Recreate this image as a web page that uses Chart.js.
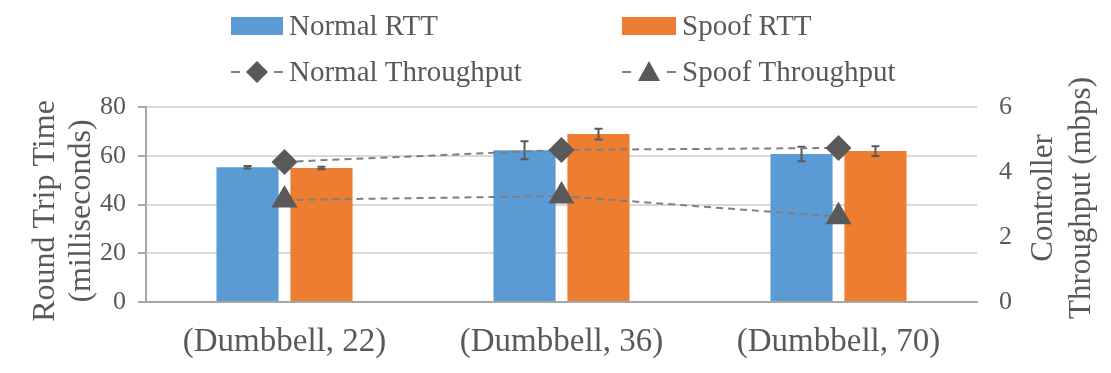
<!DOCTYPE html>
<html>
<head>
<meta charset="utf-8">
<script src="https://cdn.jsdelivr.net/npm/chart.js@4"></script>
<style>
  html, body { margin: 0; padding: 0; background: #fff; }
  #wrap { width: 1111px; height: 373px; }
</style>
</head>
<body>
<div id="wrap"><canvas id="myChart" width="1111" height="373"></canvas></div>
<script>
const categories = ['(Dumbbell, 22)', '(Dumbbell, 36)', '(Dumbbell, 70)']
const normalRtt = [55.3, 62.3, 60.7]
const normalRttErr = [0.5, 3.7, 3.0]
const spoofRtt = [55.0, 68.9, 61.9]
const spoofRttErr = [0.5, 2.2, 2.0]
const normalThroughput = [4.31, 4.68, 4.74]
const spoofThroughput = [3.14, 3.26, 2.62]

const FONT = "'Liberation Serif', 'Times New Roman', serif"
const GREY = '#595959'

// error bars drawn right after each bar dataset
const errorBars = {
    id: 'errorBars',
    afterDatasetDraw(chart, args) {
        const ds = chart.data.datasets[args.index]
        if (!ds.errors) return
        const ctx = chart.ctx
        const y = chart.scales.y
        ctx.save()
        ctx.strokeStyle = GREY
        ctx.lineWidth = 2
        args.meta.data.forEach((bar, i) => {
            const v = ds.data[i], e = ds.errors[i]
            const top = y.getPixelForValue(v + e)
            const bot = y.getPixelForValue(v - e)
            ctx.beginPath()
            ctx.moveTo(bar.x, top); ctx.lineTo(bar.x, bot)
            ctx.moveTo(bar.x - 4, top); ctx.lineTo(bar.x + 4, top)
            ctx.moveTo(bar.x - 4, bot); ctx.lineTo(bar.x + 4, bot)
            ctx.stroke()
        })
        ctx.restore()
    }
}

// legend in two rows and both axis titles
const extras = {
    id: 'extras',
    afterDraw(chart) {
        const ctx = chart.ctx
        ctx.save()
        ctx.font = '29px ' + FONT
        ctx.textBaseline = 'middle'
        ctx.textAlign = 'left'

        ctx.fillStyle = '#5b9bd5'
        ctx.fillRect(231, 17, 52, 18)
        ctx.fillStyle = '#ed7d31'
        ctx.fillRect(622, 17, 54, 18)
        ctx.fillStyle = GREY
        ctx.fillText('Normal RTT', 289, 27)
        ctx.fillText('Spoof RTT', 682, 27)

        const row2 = 72
        ctx.strokeStyle = '#7f7f7f'
        ctx.lineWidth = 2
        ctx.beginPath()
        ctx.moveTo(231, row2); ctx.lineTo(240, row2)
        ctx.moveTo(274, row2); ctx.lineTo(283, row2)
        ctx.moveTo(622, row2); ctx.lineTo(631, row2)
        ctx.moveTo(667, row2); ctx.lineTo(676, row2)
        ctx.stroke()
        ctx.fillStyle = GREY
        ctx.beginPath()
        ctx.moveTo(257, row2 - 11); ctx.lineTo(268, row2); ctx.lineTo(257, row2 + 11); ctx.lineTo(246, row2)
        ctx.closePath(); ctx.fill()
        ctx.beginPath()
        ctx.moveTo(649, row2 - 11); ctx.lineTo(660, row2 + 9); ctx.lineTo(638, row2 + 9)
        ctx.closePath(); ctx.fill()
        ctx.fillText('Normal Throughput', 289, row2 + 1)
        ctx.fillText('Spoof Throughput', 682, row2 + 1)

        // axis titles, reading upwards
        ctx.textAlign = 'center'
        ctx.font = '32px ' + FONT
        ctx.save()
        ctx.translate(0, 211)
        ctx.rotate(-Math.PI / 2)
        ctx.fillText('Round Trip Time', 0, 46)
        ctx.fillText('(milliseconds)', 0, 82)
        ctx.restore()

        ctx.font = '31px ' + FONT
        ctx.translate(0, 198)
        ctx.rotate(-Math.PI / 2)
        ctx.fillText('Controller', 0, 1044)
        ctx.fillText('Throughput (mbps)', 0, 1082)
        ctx.restore()
    }
}

new Chart('myChart', {
    data: {
        labels: categories,
        datasets: [{
            type: 'line',
            label: 'Normal Throughput',
            data: normalThroughput,
            yAxisID: 'y1',
            borderColor: '#7f7f7f',
            borderWidth: 2,
            borderDash: [7, 5],
            pointStyle: 'rectRot',
            pointRadius: 13,
            pointBackgroundColor: GREY,
            pointBorderColor: GREY,
            pointBorderWidth: 0,
            tension: 0,
            order: 0
        }, {
            type: 'line',
            label: 'Spoof Throughput',
            data: spoofThroughput,
            yAxisID: 'y1',
            borderColor: '#7f7f7f',
            borderWidth: 2,
            borderDash: [7, 5],
            pointStyle: 'triangle',
            pointRadius: 15,
            pointBackgroundColor: GREY,
            pointBorderColor: GREY,
            pointBorderWidth: 0,
            tension: 0,
            order: 0
        }, {
            type: 'bar',
            label: 'Normal RTT',
            data: normalRtt,
            errors: normalRttErr,
            backgroundColor: '#5b9bd5',
            categoryPercentage: 0.534,
            barPercentage: 0.84,
            order: 1
        }, {
            type: 'bar',
            label: 'Spoof RTT',
            data: spoofRtt,
            errors: spoofRttErr,
            backgroundColor: '#ed7d31',
            categoryPercentage: 0.534,
            barPercentage: 0.84,
            order: 1
        }]
    },
    options: {
        responsive: false,
        animation: false,
        layout: { padding: { top: 107, left: 0, right: 0, bottom: 0 } },
        plugins: { legend: { display: false }, tooltip: { enabled: false } },
        scales: {
            x: {
                grid: { display: false },
                border: { display: true, color: '#a6a6a6', width: 2 },
                ticks: { color: GREY, font: { family: FONT, size: 33 }, padding: 13 },
                afterFit(s) { s.height = 71 }
            },
            y: {
                position: 'left',
                min: 0, max: 80,
                ticks: { stepSize: 20, color: GREY, font: { family: FONT, size: 26 }, padding: 12 },
                grid: { color: '#d9d9d9', lineWidth: 2, tickLength: 8, tickColor: '#a6a6a6' },
                border: { display: true, color: '#a6a6a6', width: 2 },
                afterFit(s) { s.width = 146 }
            },
            y1: {
                position: 'right',
                min: 0, max: 6,
                ticks: { stepSize: 2, color: GREY, font: { family: FONT, size: 26 }, padding: 22 },
                grid: { display: false, drawTicks: false },
                border: { display: false },
                afterFit(s) { s.width = 134 }
            }
        }
    },
    plugins: [errorBars, extras]
})
</script>
</body>
</html>
